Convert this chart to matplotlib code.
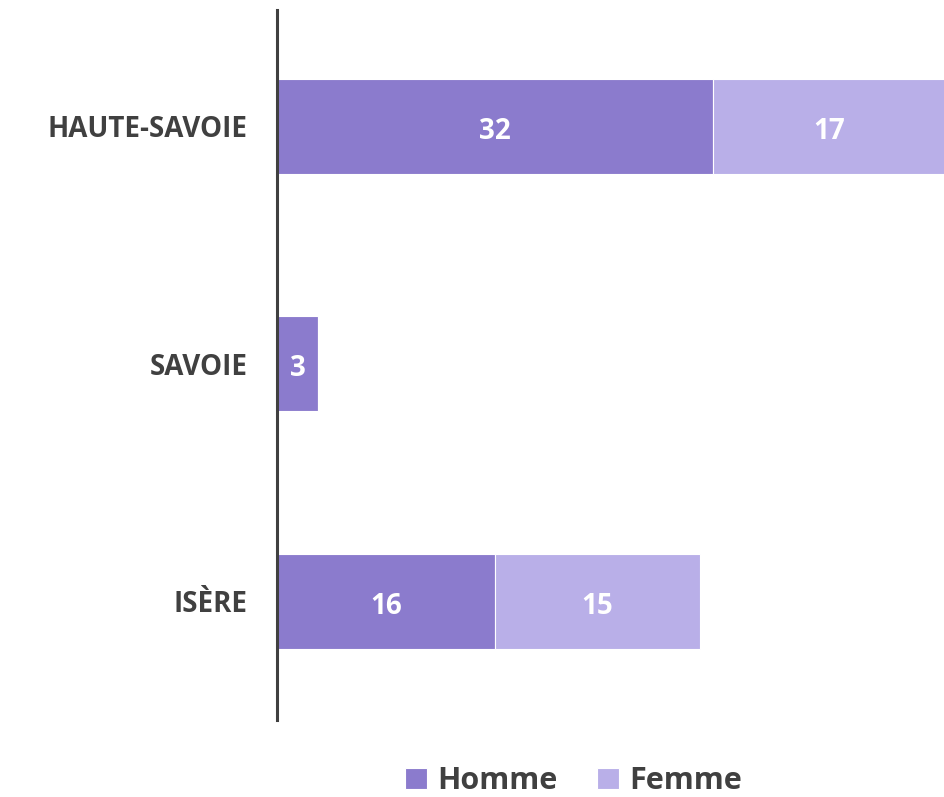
import matplotlib
matplotlib.use("Agg")
import matplotlib.pyplot as plt
import numpy as np

# data
departements = ["HAUTE-SAVOIE", "SAVOIE", "ISÈRE"]
homme = [32, 3, 16]
femme = [17, 0, 15]
series_names = ["Homme", "Femme"]

col_homme = "#8B7BCD"
col_femme = "#B9AFE8"
txt_col = "#404040"

plt.rcParams['font.family'] = ['Open Sans', 'DejaVu Sans']

fig = plt.figure(figsize=(9.45, 7.97), dpi=100)
ax = fig.add_axes([277 / 945, 1 - 720 / 797, 1 - 277 / 945, 710 / 797])

y = np.arange(len(departements))
h = np.array(homme)
f = np.array(femme)

b1 = ax.barh(y, h, height=0.4, color=col_homme, edgecolor="white", linewidth=0.8, label=series_names[0])
b2 = ax.barh(y, f, left=h, height=0.4, color=col_femme, edgecolor="white", linewidth=0.8, label=series_names[1])

# value labels inside the bars
for bars, vals, lefts in [(b1, h, np.zeros_like(h)), (b2, f, h)]:
    for bar, v, l in zip(bars, vals, lefts):
        if v == 0:
            continue
        ax.text(l + v / 2, bar.get_y() + bar.get_height() / 2 + 0.02, str(v),
                ha="center", va="center", color="white", fontsize=20, fontweight="bold")

ax.set_xlim(0, 49)
ax.set_ylim(2.5, -0.49)
ax.set_yticks(y)
ax.set_yticklabels(departements, fontsize=20, fontweight="bold", color=txt_col)
ax.tick_params(axis="y", length=0, pad=21)
ax.set_xticks([])

for side in ["top", "right", "bottom"]:
    ax.spines[side].set_visible(False)
ax.spines["left"].set_color(txt_col)
ax.spines["left"].set_linewidth(2.2)

leg = fig.legend(handles=[b1, b2], labels=series_names, loc="center",
                 bbox_to_anchor=(0.607, 1 - 781 / 797), ncol=2, frameon=False,
                 prop={"size": 22, "weight": "bold"}, handlelength=0.7, handleheight=0.7,
                 handletextpad=0.35, columnspacing=1.3)
for t in leg.get_texts():
    t.set_color(txt_col)

fig.savefig("out.png", dpi=100)
